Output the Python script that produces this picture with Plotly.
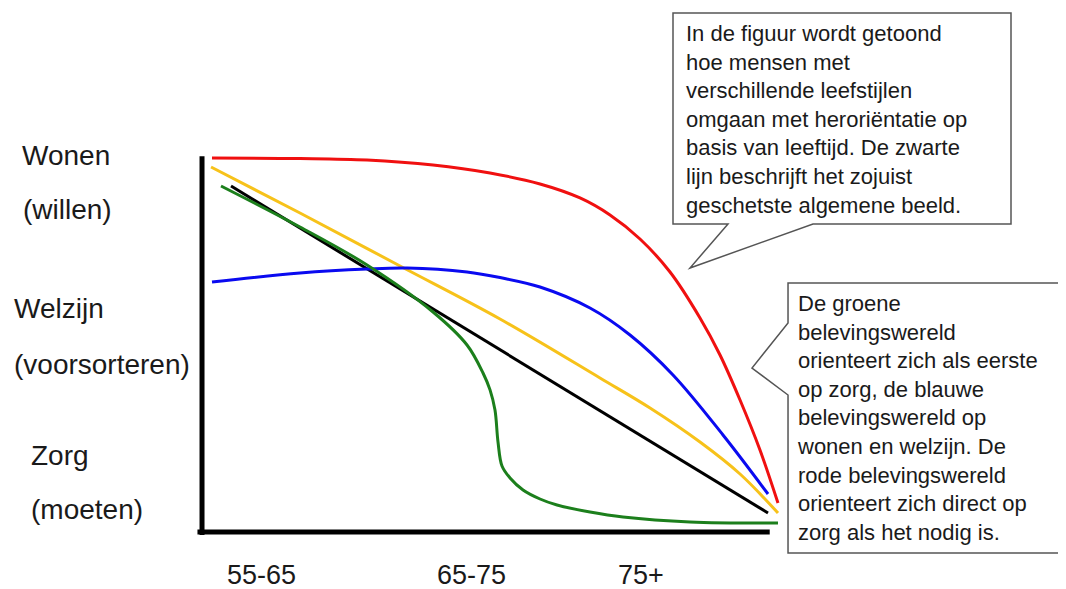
import plotly.graph_objects as go

# ---- data (abstract units: x = age progression 0..100, y = level 0..100) ----
red_x = [1.75, 17.19, 28.95, 40.53, 50.53, 59.3, 66.32, 71.58, 76.84, 82.11, 87.37, 90.88, 94.39, 97.89, 101.05]
red_y = [99.73, 99.6, 99.2, 97.87, 95.73, 92.8, 89.07, 84.53, 78.13, 69.33, 57.07, 47.2, 35.2, 21.87, 7.73]

yellow_x = [1.58, 17.19, 34.74, 52.28, 69.82, 78.6, 87.37, 94.39, 101.05]
yellow_y = [97.33, 85.07, 70.93, 56.8, 41.07, 33.07, 24.0, 15.47, 5.07]

black_x = [5.09, 99.3]
black_y = [92.27, 5.07]

blue_x = [1.75, 17.19, 28.95, 35.96, 46.49, 52.28, 59.3, 68.07, 75.09, 82.63, 91.4, 99.3]
blue_y = [66.67, 69.07, 70.13, 70.4, 69.33, 67.84, 65.33, 59.73, 52.53, 41.87, 25.87, 10.13]

green_x = [3.33, 17.19, 28.95, 40.53, 46.49, 49.3, 50.53, 51.4, 51.93, 52.63, 54.04, 56.32, 59.3, 62.28, 68.07, 73.86, 85.61, 101.05]
green_y = [92.27, 81.33, 71.2, 58.67, 49.87, 42.4, 37.9, 32.5, 24.0, 17.6, 14.4, 11.2, 8.8, 7.2, 5.33, 4.0, 2.67, 2.4]

x_tick_labels = ["55-65", "65-75", "75+"]
x_tick_pos = [10.35, 47.19, 77.02]

y_labels = ["Wonen", "(willen)", "Welzijn", "(voorsorteren)", "Zorg", "(moeten)"]
y_label_pos = [100.3, 85.9, 59.7, 44.8, 20.5, 6.1]
y_label_x = [-32.0, -31.7, -33.3, -33.3, -30.3, -30.3]

note_top = ("In de figuur wordt getoond<br>hoe mensen met<br>verschillende leefstijlen<br>"
            "omgaan met heroriëntatie op<br>basis van leeftijd. De zwarte<br>"
            "lijn beschrijft het zojuist<br>geschetste algemene beeld.")
note_right = ("De groene<br>belevingswereld<br>orienteert zich als eerste<br>op zorg, de blauwe<br>"
              "belevingswereld op<br>wonen en welzijn. De<br>rode belevingswereld<br>"
              "orienteert zich direct op<br>zorg als het nodig is.")

FONT = "Liberation Sans, Arial, sans-serif"

fig = go.Figure()

series = [
    (black_x, black_y, "#000000"),
    (yellow_x, yellow_y, "#F7C21A"),
    (blue_x, blue_y, "#0A0AF0"),
    (green_x, green_y, "#1C7F1C"),
    (red_x, red_y, "#F01010"),
]
for xs, ys, col in series:
    fig.add_trace(go.Scatter(x=xs, y=ys, mode="lines",
                             line=dict(color=col, width=3, shape="spline", smoothing=1.0),
                             hoverinfo="skip"))

# axes drawn as thick lines
fig.add_shape(type="line", x0=0, x1=0, y0=-0.8, y1=100.2, line=dict(color="black", width=5))
fig.add_shape(type="line", x0=-0.8, x1=99.6, y0=0, y1=0, line=dict(color="black", width=5))

# callout boxes
fig.add_shape(type="path",
              path="M 82.63,138.4 L 141.93,138.4 L 141.93,82.13 L 107.19,82.13 L 85.61,70.4 L 92.28,82.13 L 82.63,82.13 Z",
              line=dict(color="#555555", width=1.5), fillcolor="white", layer="above")
fig.add_shape(type="path",
              path="M 102.81,66.4 L 150.88,66.4 L 150.88,-5.6 L 102.81,-5.6 L 102.81,36.53 L 96.49,43.73 L 102.81,55.73 Z",
              line=dict(color="#555555", width=1.5), fillcolor="white", layer="above")

for t, xp in zip(x_tick_labels, x_tick_pos):
    fig.add_annotation(x=xp, y=-11.5, text=t, showarrow=False, xanchor="center", yanchor="middle",
                       font=dict(family=FONT, size=27, color="#1a1a1a"))

for t, yp, xp in zip(y_labels, y_label_pos, y_label_x):
    fig.add_annotation(x=xp, y=yp, text=t, showarrow=False, xanchor="left", yanchor="middle",
                       font=dict(family=FONT, size=28, color="#1a1a1a"))

fig.add_annotation(x=84.6, y=110.1, text=note_top, showarrow=False, xanchor="left", yanchor="middle",
                   align="left", font=dict(family=FONT, size=22, color="#1a1a1a"))
fig.add_annotation(x=104.1, y=30.5, text=note_right, showarrow=False, xanchor="left", yanchor="middle",
                   align="left", font=dict(family=FONT, size=22, color="#1a1a1a"))

# page has an 8px body margin, so the figure is 8px smaller and ranges shifted accordingly
fig.update_xaxes(range=[-34.04, 151.58], visible=False, showgrid=False, zeroline=False)
fig.update_yaxes(range=[-15.2, 139.73], visible=False, showgrid=False, zeroline=False)
fig.update_layout(width=1058, height=581, margin=dict(l=0, r=0, t=0, b=0),
                  plot_bgcolor="white", paper_bgcolor="white", showlegend=False)

fig.write_html("out.html")
